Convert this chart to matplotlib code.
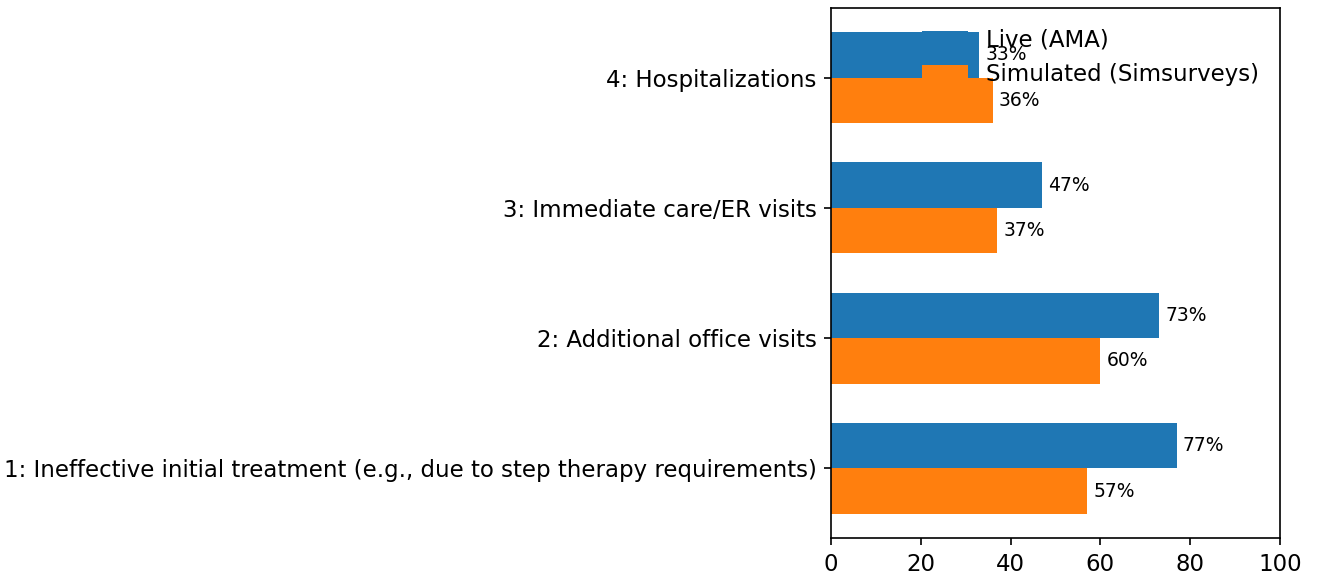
import matplotlib
matplotlib.use("Agg")
import matplotlib.pyplot as plt
import numpy as np

categories = [
    "1: Ineffective initial treatment (e.g., due to step therapy requirements)",
    "2: Additional office visits",
    "3: Immediate care/ER visits",
    "4: Hospitalizations",
]
live_values = [77, 73, 47, 33]
sim_values = [57, 60, 37, 36]
series_names = ["Live (AMA)", "Simulated (Simsurveys)"]

plt.rcParams["font.size"] = 11

W, H, DPI = 1318, 579, 150
fig = plt.figure(figsize=(W / DPI, H / DPI), dpi=DPI)
ax = fig.add_axes([831 / W, 1 - 538 / H, (1280 - 831) / W, (538 - 8) / H])

y = np.arange(len(categories))
h = 0.35
b1 = ax.barh(y + h / 2, live_values, h, label=series_names[0], color="#1f77b4")
b2 = ax.barh(y - h / 2, sim_values, h, label=series_names[1], color="#ff7f0e")
ax.bar_label(b1, labels=[f"{v}%" for v in live_values], padding=3, fontsize=9)
ax.bar_label(b2, labels=[f"{v}%" for v in sim_values], padding=3, fontsize=9)

ax.set_yticks(y)
ax.set_yticklabels(categories)
ax.set_xlim(0, 100)
ax.legend(loc="upper right", frameon=False)

fig.savefig("out.png", dpi=DPI)
